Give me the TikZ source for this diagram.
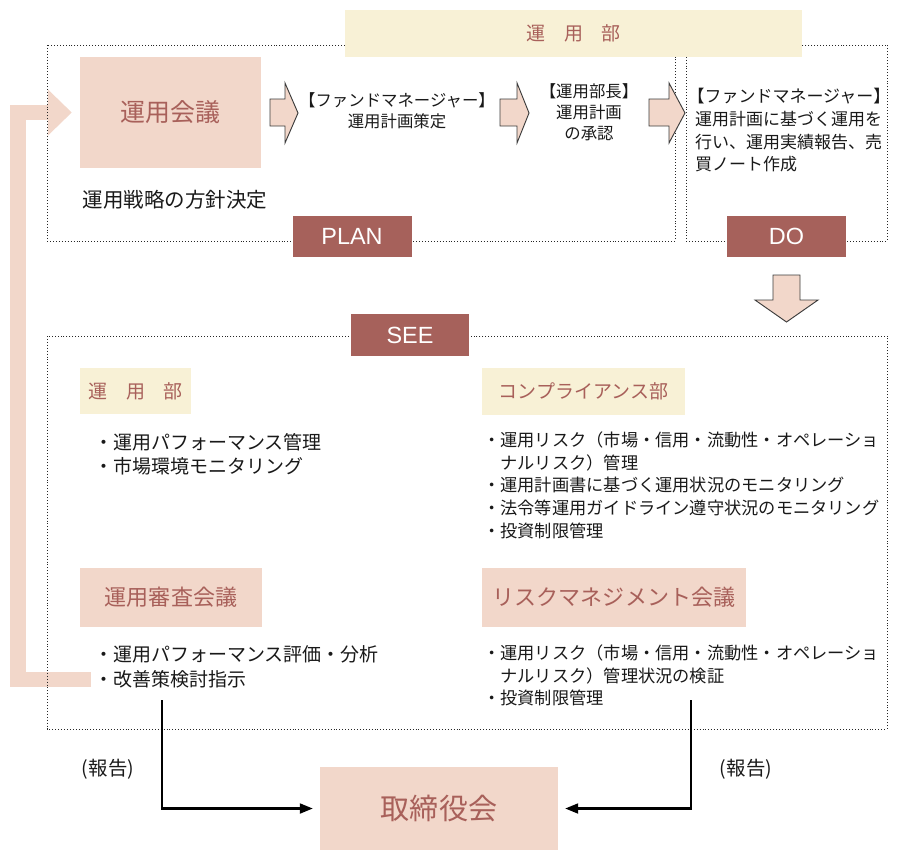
\documentclass[tikz,border=0pt]{standalone}
\usepackage{fontspec}
\setmainfont{Noto Sans CJK JP}
\newfontfamily\latinfont{Liberation Sans}
\usetikzlibrary{arrows.meta}
\definecolor{pinkbg}{HTML}{F2D7CA}
\definecolor{creambg}{HTML}{F8F1D6}
\definecolor{brownfg}{HTML}{A8605A}
\definecolor{labelbg}{HTML}{A6615B}
\definecolor{outline}{HTML}{3C3C3C}
\newcommand{\fsz}[2]{\fontsize{#1}{#2}\selectfont}

\begin{document}
\begin{tikzpicture}[x=0.03cm, y=-0.03cm, line join=miter,
	pinkbox/.style={fill=pinkbg, text=brownfg, inner sep=0pt},
	creambox/.style={fill=creambg, text=brownfg, inner sep=0pt, font=\fsz{16.2}{20}},
	phase/.style={fill=labelbg, text=white, inner sep=0pt, font=\latinfont\fsz{20}{24}, minimum width=3.57cm, minimum height=1.23cm},
	frame/.style={line width=0.8pt, dash pattern=on 0.8pt off 1.7pt, black!85},
	body/.style={inner sep=0pt, align=left, anchor=north west, text=black!90, font=\fsz{14.7}{19.4}},
	memo/.style={inner sep=0pt, align=center, text=black!90, font=\fsz{14}{18}},
	blockarrow/.style={fill=pinkbg, draw=outline, line width=0.8pt},
	report/.style={-{Triangle[length=0.39cm, width=0.3cm]}, line width=1.8pt, shorten >=0.21cm},
	feedback/.style={pinkbg, line width=0.45cm, -{Triangle[length=0.72cm, width=1.35cm]}, shorten >=0.24cm}]
	\useasboundingbox (0,0) rectangle (899,860);
	% PLAN -> DO
	\node[pinkbox, minimum width=5.43cm, minimum height=3.33cm, font=\fsz{21.3}{24}] (kaigi) at (170.5,112.5) {運用会議};
	\coordinate (fb) at (91,679.5);
	\draw[feedback] (fb) -| (18,112.5) -- (kaigi.west);
	\draw[frame] (47,45) rectangle (675,241);
	\draw[frame] (686,45) rectangle (887,241);
	\draw[frame] (47,336) rectangle (887,729);
	\node[creambox, minimum width=13.71cm, minimum height=1.41cm] (banner) at (573.5,33.5) {運　用　部};
	\node[inner sep=0pt, text=black!90, font=\fsz{17.5}{20}] (senryaku) at (175,200) {運用戦略の方針決定};
	\foreach \xa/\xb/\xc in {270/285/298, 500/517/529, 649/669/685}
		\draw[blockarrow] (\xa,99) -- (\xb,99) -- (\xb,83) -- (\xc,113) -- (\xb,143) -- (\xb,126) -- (\xa,126) -- cycle;
	\node[memo] (fmplan) at (397,111) {【ファンドマネージャー】\\運用計画策定};
	\node[memo] (bucho) at (589,112) {【運用部長】\\運用計画\\の承認};
	\node[body, font=\fsz{14.5}{19.4}] (fmdo) at (695,88) {\hspace{-0.45em}【ファンドマネージャー】\\運用計画に基づく運用を\\行い、運用実績報告、売\\買ノート作成};
	\node[phase] (plan) at (352,236.5) {PLAN};
	\node[phase] (do) at (786.5,236.5) {DO};
	\draw[blockarrow] (773,275) -- (800,275) -- (800,300) -- (818,300) -- (786.5,322) -- (755,300) -- (773,300) -- cycle;
	% SEE
	\node[phase, minimum width=3.54cm, minimum height=1.26cm] (see) at (410,335) {SEE};
	\node[creambox, minimum width=3.33cm, minimum height=1.38cm] (unyobu) at (135.5,391) {運　用　部};
	\node[creambox, minimum width=6.09cm, minimum height=1.41cm] (comp) at (583.5,391.5) {コンプライアンス部};
	\node[body, font=\fsz{16.2}{20.5}] (list1) at (94,433.5) {・運用パフォーマンス管理\\・市場環境モニタリング};
	\node[body] (list2) at (483,431.5) {・運用リスク（市場・信用・流動性・オペレーショ\\\phantom{・}ナルリスク）管理\\・運用計画書に基づく運用状況のモニタリング\\・法令等運用ガイドライン遵守状況のモニタリング\\・投資制限管理};
	\node[pinkbox, minimum width=5.46cm, minimum height=1.77cm, font=\fsz{18.8}{22}] (shinsa) at (171,597.5) {運用審査会議};
	\node[pinkbox, minimum width=7.92cm, minimum height=1.77cm, font=\fsz{18.8}{22}] (risk) at (614,597.5) {リスクマネジメント会議};
	\node[body, font=\fsz{16.2}{21}] (list3) at (94,645.5) {・運用パフォーマンス評価・分析\\・改善策検討指示};
	\node[body] (list4) at (483,644.5) {・運用リスク（市場・信用・流動性・オペレーショ\\\phantom{・}ナルリスク）管理状況の検証\\・投資制限管理};
	% report
	\node[pinkbox, minimum width=7.14cm, minimum height=2.49cm, font=\fsz{24.8}{28}] (board) at (439,808.5) {取締役会};
	\coordinate (r1) at (162,700);
	\coordinate (r2) at (691,700);
	\draw[report] (r1) |- (board.west);
	\draw[report] (r2) |- (board.east);
	\node[inner sep=0pt, text=black!90, font=\fsz{16.6}{20}] (rep1) at (108,769) {(報告)};
	\node[inner sep=0pt, text=black!90, font=\fsz{16.6}{20}] (rep2) at (746,769) {(報告)};
\end{tikzpicture}
\end{document}
